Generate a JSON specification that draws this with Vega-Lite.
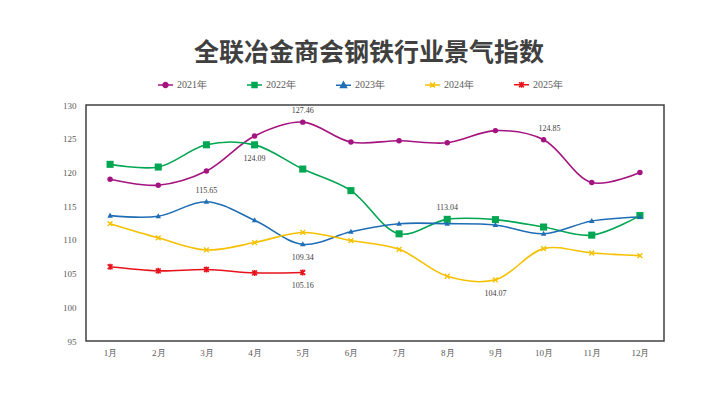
{
  "$schema": "https://vega.github.io/schema/vega-lite/v6.json",
  "width": 578,
  "height": 236,
  "autosize": {"type": "none"},
  "padding": {"left": 86, "top": 105, "right": 52, "bottom": 56},
  "background": "white",
  "config": {
    "view": {"stroke": "#404040", "strokeWidth": 1.5},
    "axis": {"grid": false, "ticks": false, "domain": false, "labelColor": "#595959", "labelFont": "Liberation Serif", "labelFontSize": 9, "title": null}
  },
  "title": {
    "text": "全联冶金商会钢铁行业景气指数",
    "font": "Noto Sans CJK SC",
    "fontSize": 25,
    "fontWeight": "bold",
    "color": "#404040",
    "anchor": "middle",
    "dx": -6,
    "offset": 10
  },
  "data": {
    "values": [
      {"month": "1月", "year": "2021年", "value": 119.0},
      {"month": "2月", "year": "2021年", "value": 118.1},
      {"month": "3月", "year": "2021年", "value": 120.2},
      {"month": "4月", "year": "2021年", "value": 125.4},
      {"month": "5月", "year": "2021年", "value": 127.46},
      {"month": "6月", "year": "2021年", "value": 124.5},
      {"month": "7月", "year": "2021年", "value": 124.7},
      {"month": "8月", "year": "2021年", "value": 124.4},
      {"month": "9月", "year": "2021年", "value": 126.2},
      {"month": "10月", "year": "2021年", "value": 124.85},
      {"month": "11月", "year": "2021年", "value": 118.5},
      {"month": "12月", "year": "2021年", "value": 120.0},
      {"month": "1月", "year": "2022年", "value": 121.2},
      {"month": "2月", "year": "2022年", "value": 120.8},
      {"month": "3月", "year": "2022年", "value": 124.1},
      {"month": "4月", "year": "2022年", "value": 124.09},
      {"month": "5月", "year": "2022年", "value": 120.5},
      {"month": "6月", "year": "2022年", "value": 117.3},
      {"month": "7月", "year": "2022年", "value": 110.9},
      {"month": "8月", "year": "2022年", "value": 113.04},
      {"month": "9月", "year": "2022年", "value": 113.0},
      {"month": "10月", "year": "2022年", "value": 111.9},
      {"month": "11月", "year": "2022年", "value": 110.7},
      {"month": "12月", "year": "2022年", "value": 113.6},
      {"month": "1月", "year": "2023年", "value": 113.6},
      {"month": "2月", "year": "2023年", "value": 113.5},
      {"month": "3月", "year": "2023年", "value": 115.65},
      {"month": "4月", "year": "2023年", "value": 112.9},
      {"month": "5月", "year": "2023年", "value": 109.34},
      {"month": "6月", "year": "2023年", "value": 111.2},
      {"month": "7月", "year": "2023年", "value": 112.4},
      {"month": "8月", "year": "2023年", "value": 112.4},
      {"month": "9月", "year": "2023年", "value": 112.2},
      {"month": "10月", "year": "2023年", "value": 110.9},
      {"month": "11月", "year": "2023年", "value": 112.8},
      {"month": "12月", "year": "2023年", "value": 113.4},
      {"month": "1月", "year": "2024年", "value": 112.4},
      {"month": "2月", "year": "2024年", "value": 110.3},
      {"month": "3月", "year": "2024年", "value": 108.5},
      {"month": "4月", "year": "2024年", "value": 109.6},
      {"month": "5月", "year": "2024年", "value": 111.1},
      {"month": "6月", "year": "2024年", "value": 109.9},
      {"month": "7月", "year": "2024年", "value": 108.6},
      {"month": "8月", "year": "2024年", "value": 104.6},
      {"month": "9月", "year": "2024年", "value": 104.07},
      {"month": "10月", "year": "2024年", "value": 108.7},
      {"month": "11月", "year": "2024年", "value": 108.05},
      {"month": "12月", "year": "2024年", "value": 107.65},
      {"month": "1月", "year": "2025年", "value": 106.0},
      {"month": "2月", "year": "2025年", "value": 105.4},
      {"month": "3月", "year": "2025年", "value": 105.6},
      {"month": "4月", "year": "2025年", "value": 105.1},
      {"month": "5月", "year": "2025年", "value": 105.16}
    ]
  },
  "encoding": {
    "x": {
      "field": "month", "type": "nominal",
      "sort": ["1月","2月","3月","4月","5月","6月","7月","8月","9月","10月","11月","12月"],
      "axis": {"labelAngle": 0, "labelPadding": 7}
    },
    "y": {
      "field": "value", "type": "quantitative",
      "scale": {"domain": [95, 130], "nice": false, "zero": false},
      "axis": {"values": [95,100,105,110,115,120,125,130], "labelPadding": 10}
    },
    "color": {
      "field": "year", "type": "nominal",
      "scale": {"domain": ["2021年","2022年","2023年","2024年","2025年"], "range": ["#A4137F","#00A651","#1F6DB5","#F5C000","#E8121B"]},
      "legend": {
        "title": null,
        "orient": "none",
        "direction": "horizontal",
        "legendX": 71,
        "legendY": -29,
        "padding": 0,
        "symbolSize": 225,
        "symbolStrokeWidth": 1.5,
        "labelFont": "Liberation Serif",
        "labelFontSize": 10,
        "labelColor": "#595959",
        "labelOffset": 3,
        "columnPadding": 37,
        "encode": {
          "symbols": {
            "update": {
              "shape": {"signal": "datum.value == '2021年' ? 'M-1,0H1M-0.33,0A0.33,0.33 0 1,0 0.33,0A0.33,0.33 0 1,0 -0.33,0' : datum.value == '2022年' ? 'M-1,0H1M-0.33,-0.33H0.33V0.33H-0.33Z' : datum.value == '2023年' ? 'M-1,0H1M0,-0.4L0.4,0.3H-0.4Z' : datum.value == '2024年' ? 'M-1,0H1M-0.33,-0.33L0.33,0.33M-0.33,0.33L0.33,-0.33' : 'M-1,0H1M-0.33,-0.33L0.33,0.33M-0.33,0.33L0.33,-0.33M0,-0.4V0.4'"},
              "fill": {"signal": "datum.value == '2021年' ? '#A4137F' : datum.value == '2022年' ? '#00A651' : datum.value == '2023年' ? '#1F6DB5' : datum.value == '2024年' ? '#F5C000' : '#E8121B'"},
              "stroke": {"signal": "datum.value == '2021年' ? '#A4137F' : datum.value == '2022年' ? '#00A651' : datum.value == '2023年' ? '#1F6DB5' : datum.value == '2024年' ? '#F5C000' : '#E8121B'"},
              "strokeWidth": {"value": 1.5},
              "opacity": {"value": 1},
              "size": {"value": 225}
            }
          }
        }
      }
    }
  },
  "layer": [
    {
      "mark": {"type": "line", "interpolate": "catmull-rom", "strokeWidth": 1.6}
    },
    {
      "transform": [{"filter": "datum.year == '2021年'"}],
      "mark": {"type": "point", "filled": true, "shape": "circle", "size": 30, "opacity": 1}
    },
    {
      "transform": [{"filter": "datum.year == '2022年'"}],
      "mark": {"type": "point", "filled": true, "shape": "square", "size": 50, "opacity": 1}
    },
    {
      "transform": [{"filter": "datum.year == '2023年'"}],
      "mark": {"type": "point", "filled": true, "shape": "M0,-1.1L1,0.75H-1Z", "size": 30, "opacity": 1}
    },
    {
      "transform": [{"filter": "datum.year == '2024年'"}],
      "mark": {"type": "point", "filled": false, "shape": "M-0.8,-0.8L0.8,0.8M-0.8,0.8L0.8,-0.8", "size": 36, "strokeWidth": 1.4, "opacity": 1}
    },
    {
      "transform": [{"filter": "datum.year == '2025年'"}],
      "mark": {"type": "point", "filled": false, "shape": "M-0.8,-0.8L0.8,0.8M-0.8,0.8L0.8,-0.8M0,-1V1", "size": 36, "strokeWidth": 1.6, "opacity": 1}
    },
    {
      "transform": [{"filter": "indexof([127.46, 115.65, 113.04], datum.value) >= 0"}],
      "mark": {"type": "text", "dy": -11, "font": "Liberation Serif", "fontSize": 8, "color": "#404040"},
      "encoding": {"text": {"field": "value", "type": "quantitative", "format": ".2f"}, "color": {"value": "#404040"}}
    },
    {
      "transform": [{"filter": "datum.value == 124.85"}],
      "mark": {"type": "text", "dy": -11, "dx": 6, "font": "Liberation Serif", "fontSize": 8, "color": "#404040"},
      "encoding": {"text": {"field": "value", "type": "quantitative", "format": ".2f"}, "color": {"value": "#404040"}}
    },
    {
      "transform": [{"filter": "indexof([124.09, 109.34, 105.16, 104.07], datum.value) >= 0"}],
      "mark": {"type": "text", "dy": 14, "font": "Liberation Serif", "fontSize": 8, "color": "#404040"},
      "encoding": {"text": {"field": "value", "type": "quantitative", "format": ".2f"}, "color": {"value": "#404040"}}
    }
  ]
}
